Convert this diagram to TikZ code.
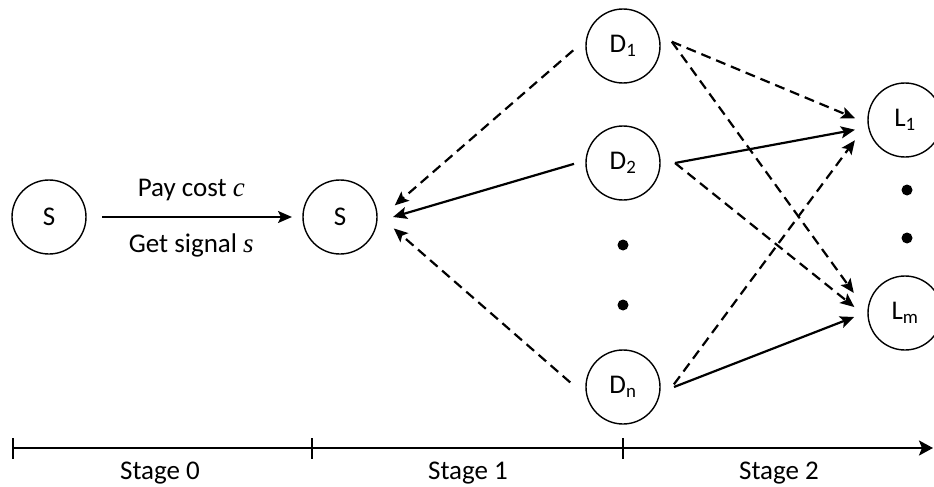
\documentclass[tikz,border=0pt]{standalone}
\usepackage{fontspec}
\setmainfont{Carlito}
\newfontfamily\varfont{Liberation Serif}
\usetikzlibrary{arrows.meta}
\tikzset{
  st/.style={circle, draw, line width=1.4pt, minimum size=74pt, inner sep=0pt},
  con/.style={line width=2.2pt, -{Stealth[length=14pt,width=12pt,inset=3pt]}},
  dsh/.style={con, dash pattern=on 10pt off 6pt},
  dotn/.style={circle, fill, minimum size=11pt, inner sep=0pt},
  lbl/.style={inner sep=0pt},
  axis/.style={line width=2.4pt, -{Stealth[length=14pt,width=15pt,inset=3pt]}},
  tick/.style={line width=2pt}
}
\begin{document}
\begin{tikzpicture}[x=1pt,y=-1pt,font=\fontsize{27}{32}\selectfont]
\useasboundingbox (0,0) rectangle (934,487);
% nodes
\node[st] (s0) at (49,217) {S};
\node[st] (s1) at (340,217) {S};
\node[st] (d1) at (623,46) {D\textsubscript{1}};
\node[st] (d2) at (623,163) {D\textsubscript{2}};
\node[st] (dn) at (623,387) {D\textsubscript{n}};
\node[st] (l1) at (905,120) {L\textsubscript{1}};
\node[st] (lm) at (905,313) {L\textsubscript{m}};
\node[dotn] (dd1) at (623,245) {};
\node[dotn] (dd2) at (623,305) {};
\node[dotn] (ld1) at (907,190) {};
\node[dotn] (ld2) at (907,238) {};
% stage 0 arrow
\draw[con] ([shift={(0:53)}]s0.center) -- ([shift={(180:48)}]s1.center)
  node[lbl, pos=0.47, yshift=27pt] (pay) {Pay cost {\varfont\itshape c}}
  node[lbl, pos=0.47, yshift=-28pt] (get) {Get signal {\varfont\itshape s}};
% D to S
\draw[dsh] ([shift={(-185:50)}]d1.center) -- ([shift={(-12:56)}]s1.center);
\draw[con] ([shift={(-181:49)}]d2.center) -- ([shift={(0:53)}]s1.center);
\draw[dsh] ([shift={(-175:53)}]dn.center) -- ([shift={(12:55)}]s1.center);
% D to L
\draw[dsh] ([shift={(-5:49)}]d1.center) -- ([shift={(-178:50)}]l1.center);
\draw[dsh] ([shift={(-5:49)}]d1.center) -- ([shift={(-158.6:55)}]lm.center);
\draw[con] ([shift={(0:52)}]d2.center) -- ([shift={(-191:51)}]l1.center);
\draw[dsh] ([shift={(0:52)}]d2.center) -- ([shift={(-173.3:51)}]lm.center);
\draw[dsh] ([shift={(-3:51)}]dn.center) -- ([shift={(-202:54)}]l1.center);
\draw[con] ([shift={(0:51)}]dn.center) -- ([shift={(-184.5:51)}]lm.center);
% axis
\coordinate (a0) at (13,448);
\coordinate (a1) at (312,448);
\coordinate (a2) at (623,448);
\coordinate (a3) at (933,448);
\draw[axis] (a0) -- (a3);
\foreach \t in {a0,a1,a2} \draw[tick] ([yshift=-10.5pt]\t) -- ([yshift=10.5pt]\t);
\node[lbl] (st0) at (160,473) {Stage 0};
\node[lbl] (st1) at (468,473) {Stage 1};
\node[lbl] (st2) at (779,473) {Stage 2};
\end{tikzpicture}
\end{document}
